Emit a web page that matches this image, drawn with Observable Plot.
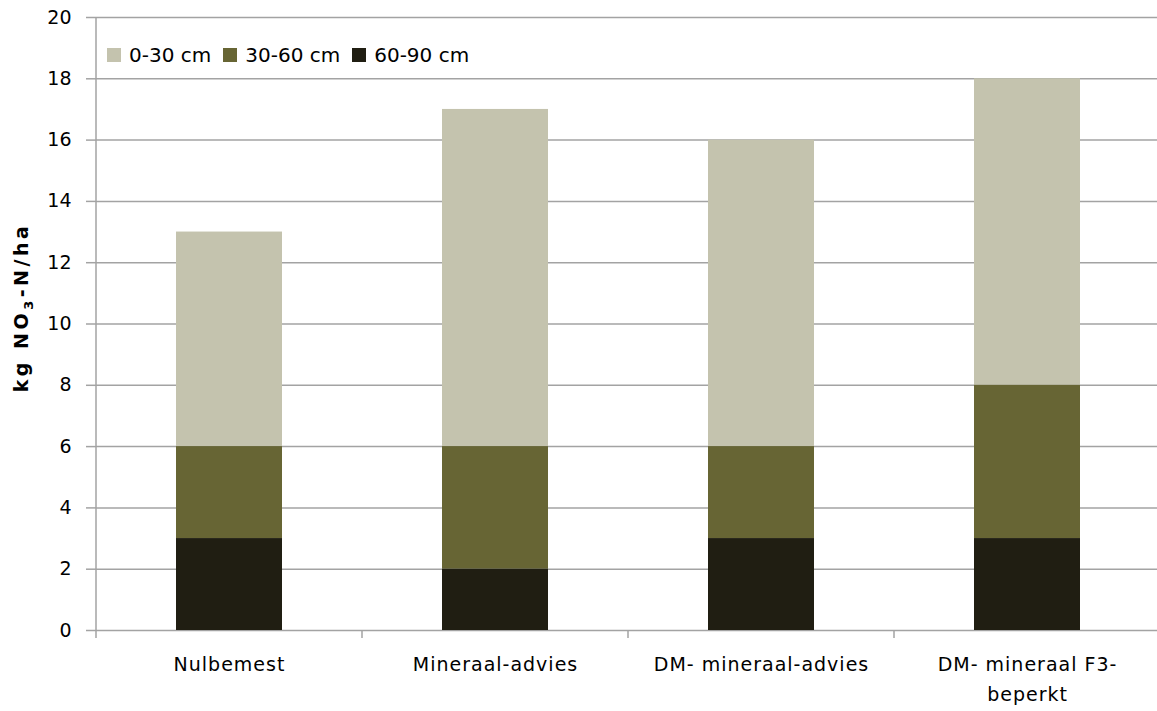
<!DOCTYPE html>
<html>
<head>
<meta charset="utf-8">
<script src="https://cdn.jsdelivr.net/npm/d3@7"></script>
<script src="https://cdn.jsdelivr.net/npm/@observablehq/plot@0.6"></script>
<style>
  html, body { margin: 0; padding: 0; background: #fff; }
  #wrap { position: relative; width: 1157px; height: 711px; font-family: "DejaVu Sans", sans-serif; }
  #legend { position: absolute; left: 107px; top: 43px; display: flex; align-items: center; font-size: 20px; color: #000; }
  #legend .item { display: flex; align-items: center; margin-right: 12px; }
  #legend .sw { width: 14px; height: 14px; margin-right: 8px; }
  g[aria-label="x-axis tick label"] text { letter-spacing: 1px; }
</style>
</head>
<body>
<div id="wrap"></div>
<script>
const categories = ["Nulbemest", "Mineraal-advies", "DM- mineraal-advies", "DM- mineraal F3-beperkt"];
const categoryLabels = ["Nulbemest", "Mineraal-advies", "DM- mineraal-advies", "DM- mineraal F3-\nbeperkt"];
const layers = ["0-30 cm", "30-60 cm", "60-90 cm"];
const layerColors = ["#c4c3ae", "#676534", "#201e12"];
const v0_30 = [7, 11, 10, 10];
const v30_60 = [3, 4, 3, 5];
const v60_90 = [3, 2, 3, 3];
const yTicks = [0, 2, 4, 6, 8, 10, 12, 14, 16, 18, 20];

const series = {"0-30 cm": v0_30, "30-60 cm": v30_60, "60-90 cm": v60_90};
const data = [];
for (const layer of layers) {
  categories.forEach((c, i) => data.push({cat: c, layer, value: series[layer][i]}));
}

const gridColor = "#a3a3a3";

const plot = Plot.plot({
  width: 1157,
  height: 711,
  marginLeft: 96,
  marginRight: -3,
  marginTop: 17,
  marginBottom: 81,
  style: {fontFamily: "DejaVu Sans, sans-serif", fontSize: "19px", color: "#000", background: "#fff"},
  x: {domain: categories, padding: 0.6, paddingOuter: 0.3, label: null},
  y: {domain: [0, 20], label: null},
  color: {domain: layers, range: layerColors},
  marks: [
    Plot.ruleY(yTicks, {stroke: gridColor, strokeWidth: 1.5}),
    Plot.barY(data, {x: "cat", y: "value", fill: "layer", order: ["60-90 cm", "30-60 cm", "0-30 cm"], inset: 0}),
    Plot.axisY({ticks: yTicks, tickSize: 10, tickPadding: 15, stroke: gridColor, strokeWidth: 1.5, label: null, fontSize: 19}),
    Plot.axisX({tickSize: 0, tickPadding: 20, label: null, fontSize: 19, lineHeight: 1.55,
      tickFormat: d => categoryLabels[categories.indexOf(d)]})
  ]
});

document.getElementById("wrap").appendChild(plot);

// axis line and category boundary ticks, derived from the plot scales
const xs = plot.scale("x");
const ys = plot.scale("y");
const svg = d3.select(plot);
const x0 = xs.apply(categories[0]) + xs.bandwidth / 2 - xs.step / 2;
const yTop = ys.apply(20), yBot = ys.apply(0);
const g = svg.append("g").attr("stroke", gridColor).attr("stroke-width", 1.5);
g.append("line").attr("x1", x0).attr("x2", x0).attr("y1", yTop).attr("y2", yBot + 8);
categories.forEach((c, i) => {
  const bx = xs.apply(c) + xs.bandwidth / 2 + xs.step / 2;
  g.append("line").attr("x1", bx).attr("x2", bx).attr("y1", yBot).attr("y2", yBot + 8);
});

// y axis title with subscript
const t = svg.append("text")
  .attr("transform", `translate(21,${(yTop + yBot) / 2 - 16}) rotate(-90)`)
  .attr("text-anchor", "middle")
  .attr("dominant-baseline", "central")
  .attr("font-family", "DejaVu Sans, sans-serif")
  .attr("font-weight", "bold")
  .attr("font-size", 19)
  .attr("letter-spacing", 3.5)
  .attr("fill", "#000");
t.append("tspan").text("kg NO");
t.append("tspan").attr("baseline-shift", "sub").attr("font-size", 13).text("3");
t.append("tspan").text("-N/ha");

// legend
const legend = document.createElement("div");
legend.id = "legend";
layers.forEach((l, i) => {
  const item = document.createElement("div");
  item.className = "item";
  const sw = document.createElement("div");
  sw.className = "sw";
  sw.style.background = layerColors[i];
  const tx = document.createElement("span");
  tx.textContent = l;
  item.appendChild(sw);
  item.appendChild(tx);
  legend.appendChild(item);
});
document.getElementById("wrap").appendChild(legend);
</script>
</body>
</html>
